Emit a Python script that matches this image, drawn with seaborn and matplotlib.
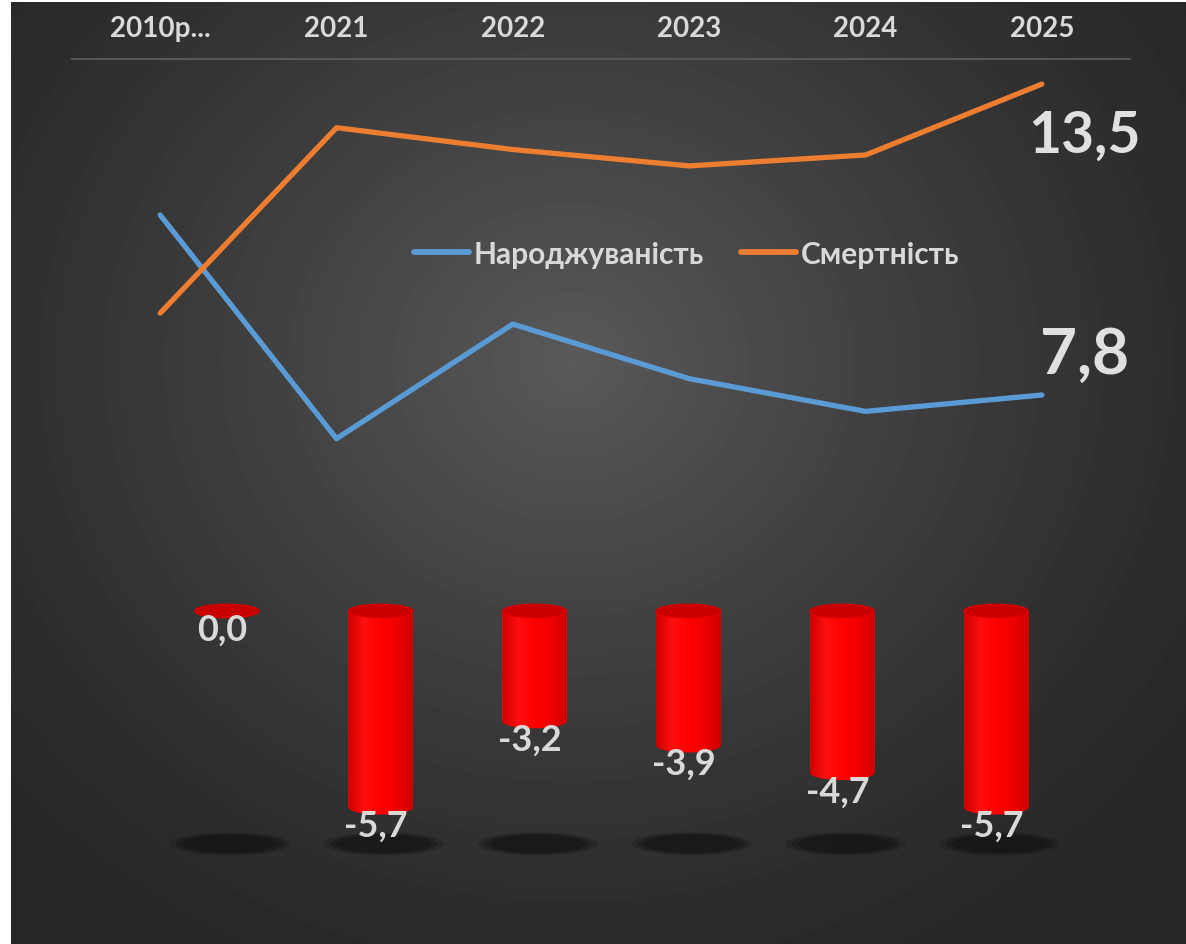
import numpy as np
import pandas as pd
import matplotlib.pyplot as plt
import seaborn as sns
from matplotlib.patches import Ellipse
from matplotlib.colors import LinearSegmentedColormap

# Data
years = ['2010р...', '2021', '2022', '2023', '2024', '2025']
births = [11.1, 7.0, 9.1, 8.1, 7.5, 7.8]
deaths = [9.3, 12.7, 12.3, 12.0, 12.2, 13.5]
natural_change = [0.0, -5.7, -3.2, -3.9, -4.7, -5.7]
series_names = ['Народжуваність', 'Смертність']

sns.set_theme(style='white')
plt.rcParams['font.family'] = ['Lato', 'DejaVu Sans']
TXT = '#d9d9d9'

W, H = 1186, 945
fig = plt.figure(figsize=(W / 100, H / 100), dpi=100)
fig.patch.set_facecolor('white')

# radial gradient background
bg = fig.add_axes([11 / W, 0, (W - 11) / W, 942 / H])
yy, xx = np.mgrid[0:942, 0:W - 11]
r = np.sqrt(((xx - 560) / 780.0) ** 2 + ((yy - 360) / 700.0) ** 2)
shade = 0.15 + 0.20 * np.clip(1 - r, 0, 1) ** 1.3
bg.imshow(shade, cmap='gray', vmin=0, vmax=1, aspect='auto', interpolation='bilinear')
bg.axis('off')

# ---- lines ----
ax = fig.add_axes([72 / W, (H - 480) / H, (1130 - 72) / W, 420 / H])
ax.patch.set_alpha(0)
df = pd.DataFrame({'pos': list(range(len(years))) * 2,
                   'value': births + deaths,
                   'series': [series_names[0]] * len(years) + [series_names[1]] * len(years)})
sns.lineplot(data=df, x='pos', y='value', hue='series', palette=['#5b9bd5', '#ed7d31'],
             linewidth=3.8, ax=ax, solid_capstyle='round')
ax.set_xlim(-0.5, len(years) - 0.5)
ax.set_ylim(6.26, 13.96)
ax.set_xlabel('')
ax.set_ylabel('')
ax.set_yticks([])
ax.xaxis.tick_top()
ax.set_xticks(range(len(years)))
ax.set_xticklabels(years, color=TXT, fontsize=20, fontweight='bold')
ax.tick_params(axis='x', length=0, pad=13)
for s in ['left', 'right', 'bottom']:
    ax.spines[s].set_visible(False)
ax.spines['top'].set_color('#575757')
ax.spines['top'].set_linewidth(1.5)

leg = ax.legend(loc='center', bbox_to_anchor=(0.581, 0.536), ncol=2, frameon=False,
                fontsize=21.5, handlelength=1.85, handletextpad=0.15, columnspacing=1.25)
for t in leg.get_texts():
    t.set_color(TXT)
    t.set_fontweight('bold')
for h in leg.get_lines():
    h.set_linewidth(4.2)
    h.set_solid_capstyle('round')

last = len(years) - 1
ax.annotate(f'{deaths[-1]:.1f}'.replace('.', ','), (last, deaths[-1]), xytext=(31, -37),
            textcoords='offset points', ha='center', va='center',
            fontsize=41, fontweight='bold', color='#e0e0e0')
ax.annotate(f'{births[-1]:.1f}'.replace('.', ','), (last, births[-1]), xytext=(31, 29),
            textcoords='offset points', ha='center', va='center',
            fontsize=46, fontweight='bold', color='#e0e0e0')

# ---- cylinders ----
bx = fig.add_axes([150 / W, (H - 870) / H, (1073 - 150) / W, 280 / H])
bx.patch.set_alpha(0)
bdf = pd.DataFrame({'year': years, 'change': natural_change})
sns.barplot(data=bdf, x='year', y='change', color='#ff0000', width=0.42, ax=bx,
            saturation=1, linewidth=0, zorder=2)
bx.set_xlim(-0.5, len(years) - 0.5)
bx.set_ylim(-7.48, 0.64)
bx.axis('off')

cyl = LinearSegmentedColormap.from_list('cyl', ['#d00000', '#ff1010', '#ff0000', '#f00000', '#d00000'])
grad = np.linspace(0, 1, 64).reshape(1, -1)
cap_h = 0.4
for i, p in enumerate(bx.patches):
    x0, w, hgt = p.get_x(), p.get_width(), p.get_height()
    xc = x0 + w / 2
    # shadow
    for k, a in zip([1.12, 1.0, 0.88], [0.25, 0.4, 0.5]):
        bx.add_patch(Ellipse((i + 0.02, -6.75), 0.7 * k, 0.6 * k, color='#141414', alpha=a,
                             lw=0, zorder=1))
    if hgt < 0:
        bottom = Ellipse((xc, hgt), w, cap_h, lw=0, facecolor='none')
        bx.add_patch(bottom)
        for clip in (p, bottom):
            im = bx.imshow(grad, cmap=cyl, extent=(x0, x0 + w, hgt - cap_h, 0),
                           aspect='auto', zorder=3)
            im.set_clip_path(clip)
    bx.add_patch(Ellipse((xc, 0), w, cap_h, facecolor='#c80000', edgecolor='#e00000',
                         lw=0.8, zorder=4))
    lbl = f'{natural_change[i]:.1f}'.replace('.', ',')
    bx.text(xc - 0.03, hgt - 0.52, lbl, ha='center', va='center', fontsize=26,
            fontweight='bold', color=TXT, zorder=5)

fig.savefig('out.png', dpi=100)
